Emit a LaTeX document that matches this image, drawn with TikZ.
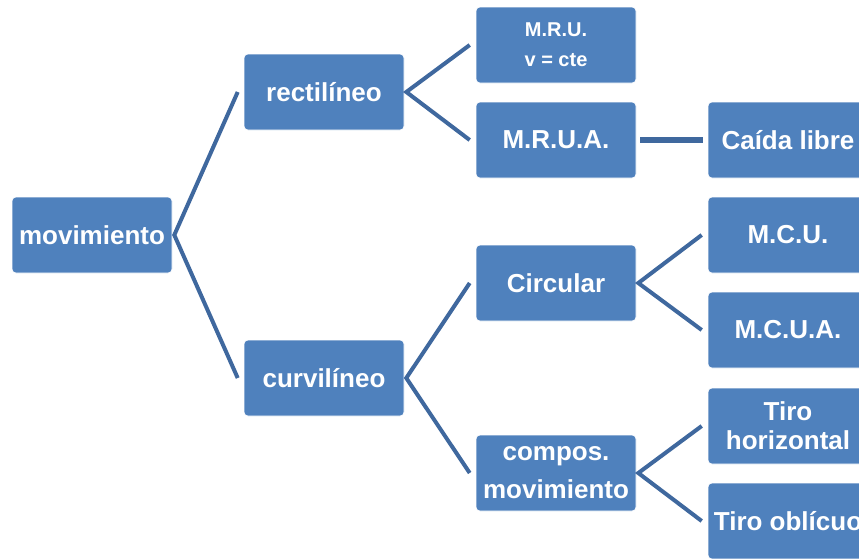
\documentclass[tikz,border=0pt]{standalone}
\usepackage{fontspec}
\setmainfont{Liberation Sans}
\usepackage{tikz}
\usetikzlibrary{positioning}
\definecolor{boxblue}{RGB}{79,129,189}
\definecolor{lineblue}{RGB}{63,104,158}

\begin{document}
\begin{tikzpicture}[
		x=1pt, y=-1pt,
		every node/.style={rectangle,rounded corners=4pt,fill=boxblue,draw=white,line width=0.6pt,
			minimum width=160pt,minimum height=76pt,inner sep=2pt,align=center,
			text=white,font=\fontsize{26}{29}\selectfont\bfseries},
		small/.style={font=\fontsize{20}{30}\selectfont\bfseries},
		link/.style={draw=lineblue,line width=4pt},
		thick link/.style={draw=lineblue,line width=6.5pt}]
		\useasboundingbox (0,0) rectangle (859,558);
		\node (1) at (92,235)  {movimiento};
		\node (2) at (324,92)  {rectilíneo};
		\node (3) at (324,378) {curvilíneo};
		\node[small] (4) at (556,45) {M.R.U.\\v = cte};
		\node (5) at (556,140) {M.R.U.A.};
		\node (6) at (788,140) {Caída libre};
		\node (7) at (556,283) {Circular};
		\node[font=\fontsize{26}{38}\selectfont\bfseries] (8) at (556,473) {compos.\\movimiento};
		\node (9) at (788,235)  {M.C.U.};
		\node (10) at (788,330) {M.C.U.A.};
		\node (11) at (788,426) {Tiro\\horizontal};
		\node (12) at (788,521) {Tiro oblícuo};
		% ramas
		\draw[link] ([xshift=-6pt]2.west) -- ([xshift=2pt]1.east) -- ([xshift=-6pt]3.west);
		\draw[link] ([xshift=-6pt]4.west) -- ([xshift=2pt]2.east) -- ([xshift=-6pt]5.west);
		\draw[link] ([xshift=-6pt]7.west) -- ([xshift=2pt]3.east) -- ([xshift=-6pt]8.west);
		\draw[link] ([xshift=-6pt]9.west) -- ([xshift=2pt]7.east) -- ([xshift=-6pt]10.west);
		\draw[link] ([xshift=-6pt]11.west) -- ([xshift=2pt]8.east) -- ([xshift=-6pt]12.west);
		\draw[thick link] ([xshift=4pt]5.east) -- ([xshift=-5pt]6.west);
	\end{tikzpicture}
\end{document}
